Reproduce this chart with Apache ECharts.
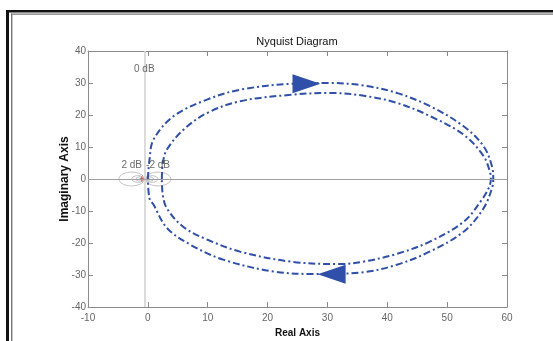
<!DOCTYPE html>
<html><head><meta charset="utf-8">
<script src="https://cdn.jsdelivr.net/npm/echarts@6/dist/echarts.min.js"></script>
<style>html,body{margin:0;padding:0;background:#fff}#c{width:553px;height:341px}</style>
</head><body><div id="c"></div>
<script>
// ---- data ----
const xTicks = [-10, 0, 10, 20, 30, 40, 50, 60];
const yTicks = [-40, -30, -20, -10, 0, 10, 20, 30, 40];

// outer loop (with arrows)
const outerX = [0.0, 0.27, 0.94, 4.28, 9.87, 15.4, 24.3, 30.5, 36.1, 41.6, 47.2, 52.8, 56.1, 57.5, 57.7,
                57.5, 56.1, 52.8, 47.2, 41.6, 36.1, 28.3, 21.0, 12.6, 7.07, 3.18, 0.94, 0.27, 0.0];
const outerY = [0.0, 6.0, 12.3, 19.6, 24.8, 27.9, 29.8, 30.0, 29.2, 26.9, 22.7, 16.4, 10.2, 3.9, 0.0,
                -2.8, -9.1, -16.4, -22.6, -26.8, -29.1, -29.7, -28.9, -25.2, -20.5, -15.3, -8.0, -6.0, 0.0];

// inner loop
const innerX = [2.34, 2.5, 3.18, 5.95, 9.87, 15.4, 23.8, 30.5, 36.1, 41.6, 47.2, 52.8, 56.1, 57.2, 57.3,
                56.95, 55.6, 52.8, 47.2, 41.6, 36.1, 32.2, 23.8, 15.4, 9.87, 5.95, 3.18, 2.5, 2.34];
const innerY = [0.0, 5.0, 9.2, 15.4, 20.6, 24.3, 26.3, 26.9, 26.0, 23.8, 19.6, 13.8, 7.1, 1.9, 0.0,
                -2.8, -7.0, -13.3, -19.5, -23.4, -25.8, -26.6, -25.8, -22.7, -18.9, -15.0, -9.2, -5.0, 0.0];

// direction arrows on the outer loop
const arrowX = [26.5, 30.7];
const arrowY = [29.8, -29.8];
const arrowRot = [-90, 90];

// M-circle grid (centre, radius)
const circleCx = [-2.71, 1.71, -1.66, 0.66, -1.34, 0.34, -1.11, 0.11];
const circleR  = [2.15, 2.15, 1.05, 1.05, 0.67, 0.67, 0.35, 0.35];

// grid labels
const gridLabels = ['0 dB', '2 dB', '-2 dB'];
const gridLabelX = [-0.6, -2.7, 1.7];
const gridLabelY = [34.3, 4.4, 4.4];

const zeroDbX = -0.5;
const critX = -1, critY = 0;

// ---- build ----
const FONT = "'Liberation Sans Narrow','Arial Narrow','Liberation Sans',sans-serif";
const BLUE = '#2f4fa8';
const AX = '#8a8a8a';

const zip = (a, b) => a.map((v, i) => [v, b[i]]);

const circleSeries = circleCx.map((cx, k) => {
  const pts = [];
  for (let i = 0; i <= 72; i++) {
    const t = i / 72 * 2 * Math.PI;
    pts.push([cx + circleR[k] * Math.cos(t), circleR[k] * Math.sin(t)]);
  }
  return {
    type: 'line', data: pts, showSymbol: false, silent: true, z: 1,
    lineStyle: { color: '#c4c4c4', width: 1 }
  };
});

const xMin = xTicks[0], xMax = xTicks[xTicks.length - 1], xInt = xTicks[1] - xTicks[0];
const yMin = yTicks[0], yMax = yTicks[yTicks.length - 1], yInt = yTicks[1] - yTicks[0];

const axisCommon = {
  type: 'value', splitLine: { show: false }, nameMoveOverlap: false,
  axisLine: { show: true, onZero: false, lineStyle: { color: AX, width: 1 } },
  axisTick: { show: true, inside: true, length: 5, lineStyle: { color: AX } }
};

const option = {
  animation: false,
  backgroundColor: '#fff',
  title: {
    text: 'Nyquist Diagram', left: 292, top: 31, textAlign: 'center',
    textStyle: { fontFamily: FONT, fontSize: 11, fontWeight: 'normal', color: '#111' }
  },
  grid: { left: 88, right: 46, top: 51, bottom: 34, outerBoundsMode: 'none', containLabel: false },
  xAxis: [
    Object.assign({}, axisCommon, {
      position: 'bottom', min: xMin, max: xMax, interval: xInt,
      name: 'Real Axis', nameLocation: 'middle', nameGap: 21,
      nameTextStyle: { fontFamily: FONT, fontSize: 10, fontWeight: 'bold', color: '#111' },
      axisLabel: { fontFamily: FONT, fontSize: 10, color: '#666', margin: 6 }
    }),
    Object.assign({}, axisCommon, {
      position: 'top', min: xMin, max: xMax, interval: xInt, axisLabel: { show: false }
    })
  ],
  yAxis: [
    Object.assign({}, axisCommon, {
      position: 'left', min: yMin, max: yMax, interval: yInt,
      name: 'Imaginary Axis', nameLocation: 'middle', nameGap: 17,
      nameTextStyle: { fontFamily: "'Liberation Sans',sans-serif", fontSize: 12, fontWeight: 'bold', color: '#111' },
      axisLabel: { fontFamily: FONT, fontSize: 10, color: '#666', margin: 2 }
    }),
    Object.assign({}, axisCommon, {
      position: 'right', min: yMin, max: yMax, interval: yInt, axisLabel: { show: false }
    })
  ],
  graphic: [
    { type: 'rect', shape: { x: 6, y: 10, width: 547, height: 2.5 }, style: { fill: '#111' }, silent: true },
    { type: 'rect', shape: { x: 6, y: 10, width: 3, height: 331 }, style: { fill: '#111' }, silent: true },
    { type: 'rect', shape: { x: 11, y: 13.5, width: 542, height: 1.2 }, style: { fill: '#777' }, silent: true },
    { type: 'rect', shape: { x: 11, y: 13.5, width: 1.4, height: 328 }, style: { fill: '#777' }, silent: true }
  ],
  series: [
    {
      type: 'line', data: [], silent: true,
      markLine: {
        symbol: 'none', silent: true, label: { show: false }, animation: false,
        data: [
          { xAxis: zeroDbX, lineStyle: { color: '#d2d2d2', width: 1.6, type: 'solid' } },
          { yAxis: 0, lineStyle: { color: '#a0a0a0', width: 1, type: 'solid' } }
        ]
      }
    },
    ...circleSeries,
    {
      type: 'scatter', data: [[critX, critY]], symbol: 'path://M2,0H3V2H5V3H3V5H2V3H0V2H2Z',
      symbolSize: 5, itemStyle: { color: '#e03030', opacity: 1 }, silent: true, z: 3
    },
    {
      type: 'line', data: zip(outerX, outerY), showSymbol: false, smooth: 0.35, z: 4,
      lineStyle: { color: BLUE, width: 2, type: [7, 3, 2, 3] }
    },
    {
      type: 'line', data: zip(innerX, innerY), showSymbol: false, smooth: 0.35, z: 4,
      lineStyle: { color: BLUE, width: 2, type: [7, 3, 2, 3] }
    },
    {
      type: 'scatter', z: 5, silent: true,
      data: arrowX.map((x, i) => ({ value: [x, arrowY[i]], symbolRotate: arrowRot[i] })),
      symbol: 'triangle', symbolSize: [19, 28], itemStyle: { color: BLUE, opacity: 1 }
    },
    {
      type: 'scatter', z: 6, silent: true, symbolSize: 0,
      data: gridLabels.map((t, i) => ({ value: [gridLabelX[i], gridLabelY[i]], name: t })),
      label: {
        show: true, position: 'inside', formatter: p => p.name,
        fontFamily: FONT, fontSize: 10, color: '#444'
      }
    }
  ]
};

const chart = echarts.init(document.getElementById('c'), null, { renderer: 'canvas' });
chart.setOption(option);
</script>
</body></html>
